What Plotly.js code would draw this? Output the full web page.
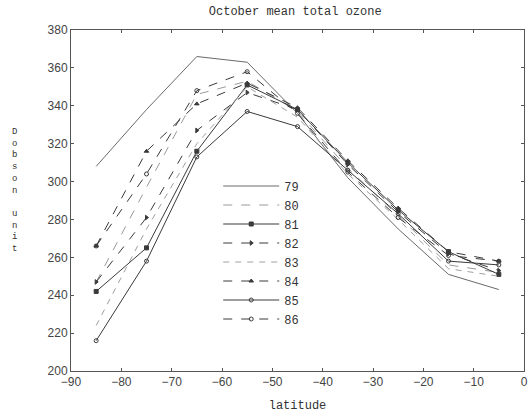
<!DOCTYPE html>
<html>
<head>
<meta charset="utf-8">
<script src="https://cdn.plot.ly/plotly-3.0.1.min.js"></script>
<style>html,body{margin:0;padding:0;background:#fff;}#chart{width:531px;height:415px;}</style>
</head>
<body>
<div id="chart"></div>
<script>
// latitude of each zonal band
const latitudes = [-85, -75, -65, -55, -45, -35, -25, -15, -5];
// October mean total ozone (Dobson units), one array per year
const y79 = [308, 338, 366, 363, 336, 302, 275, 251, 243];
const y80 = [247, 297, 346, 353, 337, 307, 282, 256, 252];
const y81 = [242, 265, 316, 351, 338, 310, 285, 263, 251];
const y82 = [247, 281, 327, 347, 338, 309, 284, 262, 253];
const y83 = [224, 275, 320, 350, 334, 304, 280, 254, 250];
const y84 = [266, 316, 341, 352, 339, 311, 286, 263, 258];
const y85 = [216, 258, 313, 337, 329, 306, 283, 258, 256];
const y86 = [266, 304, 348, 358, 336, 305, 281, 261, 258];
const yearLabels = ['79', '80', '81', '82', '83', '84', '85', '86'];

const seriesValues = [y79, y80, y81, y82, y83, y84, y85, y86];
const styles = [
  {color: '#6a6a6a', dash: 'solid', symbol: null},
  {color: '#9a9a9a', dash: 'dash', symbol: null},
  {color: '#3a3a3a', dash: 'solid', symbol: 'square'},
  {color: '#3a3a3a', dash: 'dash', symbol: 'triangle-right'},
  {color: '#a0a0a0', dash: '6px,6px', symbol: null},
  {color: '#3a3a3a', dash: 'dash', symbol: 'triangle-up'},
  {color: '#3a3a3a', dash: 'solid', symbol: 'circle-open'},
  {color: '#3a3a3a', dash: 'dash', symbol: 'circle-open'}
];

const traces = seriesValues.map((vals, i) => {
  const s = styles[i];
  const t = {
    x: latitudes, y: vals, name: yearLabels[i], type: 'scatter',
    mode: s.symbol ? 'lines+markers' : 'lines',
    line: {color: s.color, width: 1, dash: s.dash}
  };
  if (s.symbol) t.marker = {symbol: s.symbol, size: 4, color: s.color, line: {color: s.color, width: 1}};
  return t;
});

const mono = 'Liberation Mono, Courier New, monospace';
const sans = 'Liberation Sans, Arial, sans-serif';

const layout = {
  width: 531, height: 415,
  margin: {l: 71, r: 7, t: 30, b: 44},
  paper_bgcolor: '#fff', plot_bgcolor: '#fff',
  title: {text: 'October mean total ozone', font: {family: mono, size: 12, color: '#333'},
          x: 0.556, xanchor: 'center', y: 0.985, yanchor: 'top'},
  xaxis: {
    range: [-90, 0], tick0: -90, dtick: 10, ticks: 'inside', ticklen: 3, tickcolor: '#555',
    showline: true, linecolor: '#555', linewidth: 1, mirror: 'ticks', showgrid: false, zeroline: false,
    tickfont: {family: sans, size: 12, color: '#444'},
    title: {text: 'latitude', font: {family: mono, size: 12, color: '#333'}, standoff: 12}
  },
  yaxis: {
    range: [200, 380], tick0: 200, dtick: 20, ticks: 'inside', ticklen: 3, tickcolor: '#555',
    showline: true, linecolor: '#555', linewidth: 1, mirror: 'ticks', showgrid: false, zeroline: false,
    tickfont: {family: sans, size: 12, color: '#444'}
  },
  legend: {
    x: 0.325, xanchor: 'left', y: 0.585, yanchor: 'top',
    bgcolor: 'rgba(0,0,0,0)', borderwidth: 0, tracegroupgap: 0, itemwidth: 56,
    font: {family: mono, size: 12, color: '#333'}
  },
  annotations: [{
    text: 'D<br>o<br>b<br>s<br>o<br>n<br> <br>u<br>n<br>i<br>t',
    xref: 'paper', yref: 'paper', x: -0.125, y: 0.53, xanchor: 'center', yanchor: 'middle',
    showarrow: false, font: {family: mono, size: 9, color: '#333'}
  }]
};

Plotly.newPlot('chart', traces, layout, {displayModeBar: false, staticPlot: true});
</script>
</body>
</html>
